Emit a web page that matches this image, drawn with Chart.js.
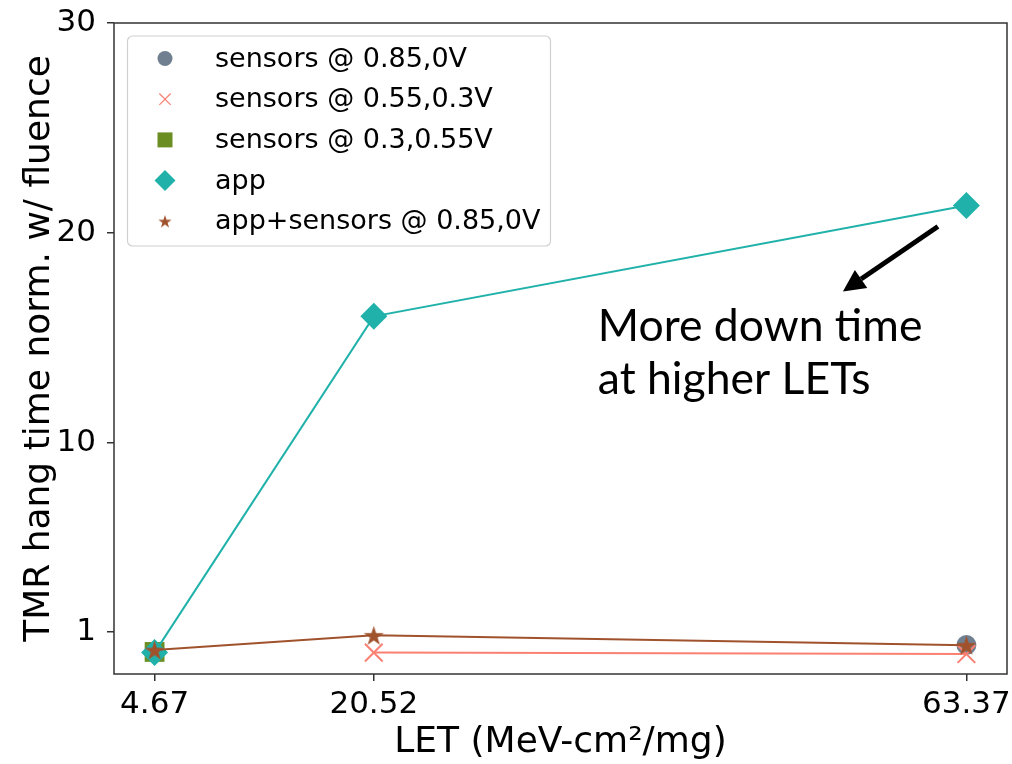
<!DOCTYPE html>
<html>
<head>
<meta charset="utf-8">
<script src="https://cdn.jsdelivr.net/npm/chart.js@4.4.0/dist/chart.umd.min.js"></script>
<style>
  html, body { margin: 0; padding: 0; background: #fff; overflow: hidden; }
  #chart1 { display: block; }
</style>
</head>
<body>
<canvas id="chart1" width="1012" height="764"></canvas>
<script>
// LET values (x) and the normalised hang time of each run
var letValues = [4.67, 20.52, 63.37]
var yTickValues = [1, 10, 20, 30]
var sensors085 = [0.05, null, 0.38]
var sensors055 = [null, 0.02, -0.05]
var sensors03 = [0.05, null, null]
var appOnly = [0.02, 16.03, 21.31]
var appSensors = [0.14, 0.84, 0.37]
var seriesNames = ['sensors @ 0.85,0V', 'sensors @ 0.55,0.3V', 'sensors @ 0.3,0.55V', 'app', 'app+sensors @ 0.85,0V']
var noteLines = ['More down time', 'at higher LETs']
var noteAt = [36.72, 14.84, 12.31]   // x, baseline of line 1, baseline of line 2
var arrowFrom = [61.31, 20.31]
var arrowTo = [54.44, 17.22]

function toPoints(values) {
    var pts = []
    for (let i = 0; i < values.length; i++) {
        pts.push({x: letValues[i], y: values[i]})
    }
    return pts
}

function starPath(ctx, x, y, r) {
    ctx.beginPath()
    for (let i = 0; i < 10; i++) {
        var rr = i % 2 === 0 ? r : r * 0.38
        var a = -Math.PI / 2 + i * Math.PI / 5
        if (i === 0) ctx.moveTo(x + rr * Math.cos(a), y + rr * Math.sin(a))
        else ctx.lineTo(x + rr * Math.cos(a), y + rr * Math.sin(a))
    }
    ctx.closePath()
}

function starCanvas(r, color) {
    var c = document.createElement('canvas')
    var s = Math.ceil(r * 2 + 2)
    c.width = s
    c.height = s
    var cx = c.getContext('2d')
    cx.fillStyle = color
    starPath(cx, s / 2, s / 2 + r * 0.1, r)
    cx.fill()
    return c
}

var colors = ['#708090', '#FA8072', '#6B8E23', '#20B2AA', '#A0522D']
var bigStar = starCanvas(10.5, colors[4])
var smallStar = starCanvas(7, colors[4])

// legend marker looks (smaller than the plotted ones)
var legendMarks = [
    {pointStyle: 'circle', radius: 7.5},
    {pointStyle: 'crossRot', radius: 8},
    {pointStyle: 'rect', radius: 10.6},
    {pointStyle: 'rectRot', radius: 10.5},
    {pointStyle: smallStar, radius: 7}
]

var framePlugin = {
    id: 'frame',
    afterDraw: function(chart) {
        var ctx = chart.ctx
        var a = chart.chartArea
        var xs = chart.scales.x
        var ys = chart.scales.y
        ctx.save()
        ctx.strokeStyle = '#333'
        ctx.lineWidth = 1.5
        ctx.strokeRect(a.left, a.top, a.right - a.left, a.bottom - a.top)

        // legend box
        var bx = 127.5, by = 36, bw = 423, bh = 210
        ctx.beginPath()
        ctx.roundRect(bx, by, bw, bh, 5)
        ctx.fillStyle = 'rgba(255,255,255,0.8)'
        ctx.fill()
        ctx.strokeStyle = '#d0d0d0'
        ctx.lineWidth = 1.2
        ctx.stroke()
        ctx.font = '27px "DejaVu Sans"'
        ctx.textBaseline = 'middle'
        ctx.textAlign = 'left'
        for (let i = 0; i < seriesNames.length; i++) {
            var rowY = 58.5 + i * 40.7
            var m = legendMarks[i]
            ctx.fillStyle = colors[i]
            ctx.strokeStyle = colors[i]
            Chart.helpers.drawPoint(ctx, {
                pointStyle: m.pointStyle, radius: m.radius, rotation: 0,
                borderWidth: i === 1 ? 1.5 : 0
            }, 165, rowY)
            ctx.fillStyle = '#000'
            ctx.fillText(seriesNames[i], 215, rowY + 1)
        }

        // note and arrow
        ctx.fillStyle = '#000'
        ctx.font = '44.5px Lato'
        ctx.textBaseline = 'alphabetic'
        ctx.fillText(noteLines[0], xs.getPixelForValue(noteAt[0]), ys.getPixelForValue(noteAt[1]))
        ctx.fillText(noteLines[1], xs.getPixelForValue(noteAt[0]), ys.getPixelForValue(noteAt[2]))

        var x0 = xs.getPixelForValue(arrowFrom[0]), y0 = ys.getPixelForValue(arrowFrom[1])
        var x1 = xs.getPixelForValue(arrowTo[0]), y1 = ys.getPixelForValue(arrowTo[1])
        var ang = Math.atan2(y1 - y0, x1 - x0)
        var headLen = 22, headW = 11
        var bxp = x1 - headLen * Math.cos(ang), byp = y1 - headLen * Math.sin(ang)
        ctx.strokeStyle = '#000'
        ctx.lineWidth = 5
        ctx.beginPath()
        ctx.moveTo(x0, y0)
        ctx.lineTo(bxp, byp)
        ctx.stroke()
        ctx.beginPath()
        ctx.moveTo(x1, y1)
        ctx.lineTo(bxp + headW * Math.sin(ang), byp - headW * Math.cos(ang))
        ctx.lineTo(bxp - headW * Math.sin(ang), byp + headW * Math.cos(ang))
        ctx.closePath()
        ctx.fill()
        ctx.restore()
    }
}

Chart.defaults.color = '#000'
Chart.defaults.font.family = '"DejaVu Sans"'

var ctx = document.getElementById('chart1').getContext('2d')
var myChart = new Chart(ctx, {
    type: 'scatter',
    data: {
        datasets: [{
            label: seriesNames[0],
            data: toPoints(sensors085),
            showLine: false,
            pointStyle: 'circle',
            pointRadius: 10,
            pointBackgroundColor: colors[0],
            pointBorderColor: colors[0],
            pointBorderWidth: 0,
            order: 5
        }, {
            label: seriesNames[1],
            data: toPoints(sensors055),
            showLine: true,
            borderColor: colors[1],
            borderWidth: 2,
            pointStyle: 'crossRot',
            pointRadius: 12.5,
            pointBorderColor: colors[1],
            pointBorderWidth: 2,
            order: 4
        }, {
            label: seriesNames[2],
            data: toPoints(sensors03),
            showLine: false,
            pointStyle: 'rect',
            pointRadius: 14,
            pointBackgroundColor: colors[2],
            pointBorderColor: colors[2],
            pointBorderWidth: 0,
            order: 3
        }, {
            label: seriesNames[3],
            data: toPoints(appOnly),
            showLine: true,
            borderColor: colors[3],
            borderWidth: 2,
            pointStyle: 'rectRot',
            pointRadius: 13.5,
            pointBackgroundColor: colors[3],
            pointBorderColor: colors[3],
            pointBorderWidth: 0,
            order: 2
        }, {
            label: seriesNames[4],
            data: toPoints(appSensors),
            showLine: true,
            borderColor: colors[4],
            borderWidth: 2,
            pointStyle: bigStar,
            pointRadius: 10,
            order: 1
        }]
    },
    options: {
        responsive: false,
        animation: false,
        events: [],
        layout: {autoPadding: false, padding: {top: 23, right: 5, left: 0, bottom: 0}},
        plugins: {
            legend: {display: false},
            tooltip: {enabled: false}
        },
        scales: {
            x: {
                type: 'linear',
                min: 1.735,
                max: 66.305,
                afterBuildTicks: function(scale) {
                    scale.ticks = letValues.map(function(v) { return {value: v} })
                },
                afterFit: function(scale) {
                    scale.height = 90
                    scale.paddingLeft = 0
                    scale.paddingRight = 0
                },
                ticks: {
                    font: {size: 31},
                    padding: 5,
                    maxRotation: 0,
                    callback: function(v) { return v.toFixed(2) }
                },
                grid: {drawOnChartArea: false, drawTicks: true, tickLength: 7, color: '#333', lineWidth: 1.5},
                border: {display: false},
                title: {display: true, text: 'LET (MeV-cm²/mg)', font: {size: 36}, padding: {top: 0, bottom: 0}}
            },
            y: {
                type: 'linear',
                min: -1,
                max: 30,
                afterBuildTicks: function(scale) {
                    scale.ticks = yTickValues.map(function(v) { return {value: v} })
                },
                afterFit: function(scale) {
                    scale.width = 114
                    scale.paddingTop = 0
                    scale.paddingBottom = 0
                },
                ticks: {font: {size: 31}, padding: 11},
                grid: {drawOnChartArea: false, drawTicks: true, tickLength: 7, color: '#333', lineWidth: 1.5},
                border: {display: false},
                title: {display: true, text: 'TMR hang time norm. w/ fluence', font: {size: 36}, padding: {top: 18, bottom: 0}}
            }
        }
    },
    plugins: [framePlugin]
})
</script>
</body>
</html>
